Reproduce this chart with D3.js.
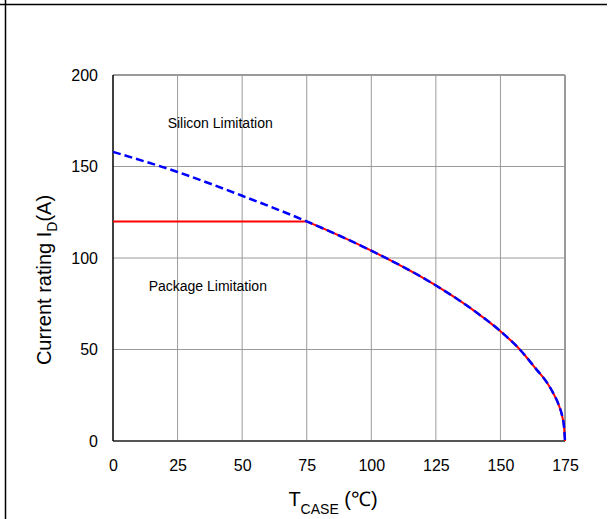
<!DOCTYPE html>
<html>
<head>
<meta charset="utf-8">
<script src="https://d3js.org/d3.v7.min.js"></script>
<style>
  body { margin: 0; background: #fff; }
  text { font-family: Arial, "Liberation Sans", sans-serif; fill: #000; }
</style>
</head>
<body>
<div id="chart"></div>
<script>
// values
var xTicks = [0, 25, 50, 75, 100, 125, 150, 175];
var yTicks = [0, 50, 100, 150, 200];

// silicon limited current (blue dashed)
var tCase   = [0, 25, 50, 75, 100, 125, 140, 150, 157.5, 164, 168, 170.5, 172.5, 174, 174.6, 175];
var silicon = [158, 147, 134, 120, 104, 85, 71, 60, 50, 39, 32, 26, 20, 13, 8, 0];

// package limit (red) - flat at 120 A until it meets the silicon curve
var packageLimit = 120;

var W = 609, H = 519;
var margin = {top: 75, right: 44, bottom: 78, left: 113},
    width = W - margin.left - margin.right,
    height = H - margin.top - margin.bottom;

var svg = d3.select("#chart").append("svg")
    .attr("width", W)
    .attr("height", H);

// outer frame lines (top and left)
svg.append("line").attr("x1", 0).attr("x2", 607).attr("y1", 4.5).attr("y2", 4.5)
    .attr("stroke", "#000").attr("stroke-width", 1.5);
svg.append("line").attr("x1", 5.5).attr("x2", 5.5).attr("y1", 0).attr("y2", H)
    .attr("stroke", "#000").attr("stroke-width", 1.5);

var g = svg.append("g")
    .attr("transform", "translate(" + margin.left + "," + margin.top + ")");

var x = d3.scaleLinear().domain([0, 175]).range([0, width]);
var y = d3.scaleLinear().domain([0, 200]).range([height, 0]);

// grid
g.selectAll(".vgrid").data(xTicks.slice(1))
  .enter().append("line")
    .attr("x1", d => x(d)).attr("x2", d => x(d))
    .attr("y1", 0).attr("y2", height)
    .attr("stroke", "#9a9a9a").attr("stroke-width", d => d == 175 ? 2 : 1);
g.selectAll(".hgrid").data(yTicks.slice(1))
  .enter().append("line")
    .attr("x1", 0).attr("x2", width)
    .attr("y1", d => y(d)).attr("y2", d => y(d))
    .attr("stroke", "#9a9a9a").attr("stroke-width", d => d == 200 ? 2 : 1);

// axes
var xAxis = g.append("g")
    .attr("transform", "translate(0," + height + ")")
    .call(d3.axisBottom(x).tickValues(xTicks).tickSize(0).tickPadding(19));
xAxis.select(".domain").remove();
xAxis.selectAll("text").style("font-size", "16px")
    .style("font-family", "Arial, 'Liberation Sans', sans-serif").attr("fill", "#000");

var yAxis = g.append("g")
    .call(d3.axisLeft(y).tickValues(yTicks).tickSize(0).tickPadding(15));
yAxis.select(".domain").remove();
yAxis.selectAll("text").style("font-size", "16px")
    .style("font-family", "Arial, 'Liberation Sans', sans-serif").attr("fill", "#000");

g.append("line").attr("x1", 0).attr("x2", width).attr("y1", height).attr("y2", height)
    .attr("stroke", "#555").attr("stroke-width", 2);
g.append("line").attr("x1", 0).attr("x2", 0).attr("y1", 0).attr("y2", height)
    .attr("stroke", "#000").attr("stroke-width", 1.5);

// curves
var line = d3.line()
    .x(d => x(d[0]))
    .y(d => y(d[1]))
    .curve(d3.curveMonotoneX);

var siliconPts = tCase.map((t, i) => [t, silicon[i]]);

// red: the silicon curve below the package limit, plus the flat part
g.append("clipPath").attr("id", "pkgclip")
  .append("rect")
    .attr("x", -5).attr("y", y(packageLimit))
    .attr("width", width + 10).attr("height", height - y(packageLimit) + 5);

var kneeT = tCase[silicon.indexOf(packageLimit)];
g.append("line")
    .attr("x1", x(0)).attr("x2", x(kneeT))
    .attr("y1", y(packageLimit)).attr("y2", y(packageLimit))
    .attr("stroke", "#ff0000").attr("stroke-width", 2);

g.append("path")
    .datum(siliconPts)
    .attr("d", line)
    .attr("clip-path", "url(#pkgclip)")
    .attr("fill", "none")
    .attr("stroke", "#ff0000")
    .attr("stroke-width", 2);

g.append("path")
    .datum(siliconPts)
    .attr("d", line)
    .attr("fill", "none")
    .attr("stroke", "#0000ff")
    .attr("stroke-width", 2.5)
    .attr("stroke-dasharray", "8,4");

// annotations
g.append("text")
    .attr("x", x(41.5)).attr("y", y(173.8))
    .attr("text-anchor", "middle").attr("dominant-baseline", "central")
    .style("font-size", "14px")
    .text("Silicon Limitation");
g.append("text")
    .attr("x", x(36.7)).attr("y", y(84.7))
    .attr("text-anchor", "middle").attr("dominant-baseline", "central")
    .style("font-size", "14px")
    .text("Package Limitation");

// axis titles
var yt = svg.append("text")
    .attr("transform", "translate(44,280) rotate(-90)")
    .attr("text-anchor", "middle").attr("dominant-baseline", "central")
    .style("font-size", "20px");
yt.append("tspan").text("Current rating I");
yt.append("tspan").attr("baseline-shift", "sub").style("font-size", "14px").text("D");
yt.append("tspan").text("(A)");

var xt = svg.append("text")
    .attr("x", 333).attr("y", 506)
    .attr("text-anchor", "middle")
    .style("font-size", "20px");
xt.append("tspan").text("T");
xt.append("tspan").attr("baseline-shift", "sub").style("font-size", "14px").text("CASE");
xt.append("tspan").text(" (℃)");
</script>
</body>
</html>
